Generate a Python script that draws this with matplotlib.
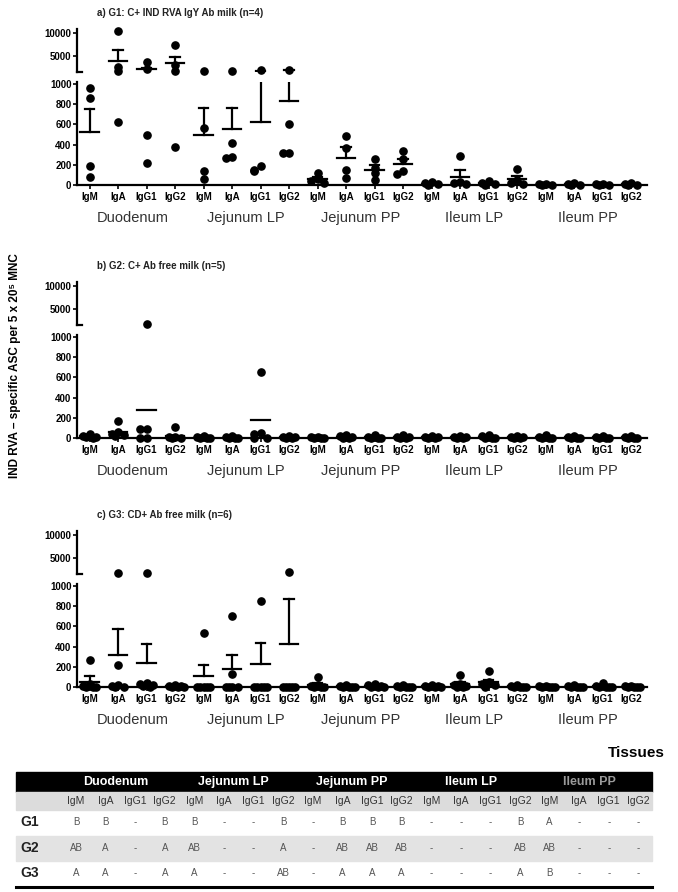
import numpy as np
import matplotlib.pyplot as plt

plt.rcParams['font.family'] = ['Liberation Sans', 'DejaVu Sans']

# === Data ===
isotypes = ["IgM", "IgA", "IgG1", "IgG2"]
tissues = ["Duodenum", "Jejunum LP", "Jejunum PP", "Ileum LP", "Ileum PP"]
tick_labels = isotypes * len(tissues)

titles = ["a) G1: C+ IND RVA IgY Ab milk (n=4)",
          "b) G2: C+ Ab free milk (n=5)",
          "c) G3: CD+ Ab free milk (n=6)"]

# G1 (n=4)
g1_points = [
    [960, 860, 190, 80], [10400, 2600, 1700, 620], [3700, 2200, 500, 215], [7400, 3050, 1700, 375],
    [1750, 560, 140, 55], [1750, 415, 275, 265], [1900, 190, 150, 140], [1900, 600, 315, 315],
    [120, 60, 40, 20], [485, 370, 150, 70], [255, 165, 115, 50], [335, 255, 140, 105],
    [30, 15, 5, 0], [290, 30, 20, 10], [35, 20, 10, 0], [155, 50, 20, 10],
    [10, 5, 0, 0], [15, 5, 0, 0], [10, 5, 0, 0], [15, 5, 0, 0],
]
g1_mean = [525, 3900, 2200, 3500, 495, 550, 620, 830,
           55, 270, 150, 210, 12, 80, 16, 60, 4, 5, 4, 5]
g1_sem = [225, 2400, 250, 1300, 265, 210, 1200, 1100,
          25, 105, 50, 45, 8, 70, 8, 30, 3, 4, 3, 4]

# G2 (n=5), mean only
g2_points = [
    [40, 20, 10, 5, 0], [165, 60, 40, 30, 20], [1700, 90, 85, 0, 0], [105, 10, 5, 0, 0],
    [15, 5, 0, 0, 0], [15, 5, 0, 0, 0], [650, 50, 40, 0, 0], [20, 10, 5, 0, 0],
    [10, 5, 0, 0, 0], [30, 15, 5, 0, 0], [25, 10, 0, 0, 0], [25, 10, 5, 0, 0],
    [20, 10, 5, 0, 0], [15, 10, 5, 0, 0], [25, 15, 0, 0, 0], [15, 10, 5, 0, 0],
    [30, 10, 0, 0, 0], [15, 10, 0, 0, 0], [20, 5, 0, 0, 0], [15, 10, 0, 0, 0],
]
g2_mean = [15, 60, 275, 24, 4, 4, 180, 7, 3, 10, 7, 8, 7, 6, 8, 6, 8, 5, 5, 5]
g2_sem = None

# G3 (n=6)
g3_points = [
    [265, 30, 10, 0, 0, 0], [1700, 215, 20, 10, 0, 0], [1700, 40, 30, 20, 10, 0], [20, 10, 5, 0, 0, 0],
    [535, 0, 0, 0, 0, 0], [705, 130, 0, 0, 0, 0], [850, 0, 0, 0, 0, 0], [1900, 0, 0, 0, 0, 0],
    [95, 20, 10, 0, 0, 0], [20, 10, 0, 0, 0, 0], [30, 20, 10, 0, 0, 0], [15, 10, 0, 0, 0, 0],
    [15, 10, 5, 0, 0, 0], [120, 30, 20, 10, 0, 0], [160, 50, 30, 20, 10, 0], [20, 10, 0, 0, 0, 0],
    [10, 5, 0, 0, 0, 0], [15, 5, 0, 0, 0, 0], [40, 10, 0, 0, 0, 0], [10, 5, 0, 0, 0, 0],
]
g3_mean = [50, 315, 235, 6, 112, 175, 225, 430,
           20, 5, 10, 4, 5, 30, 45, 5, 3, 3, 8, 3]
g3_sem = [60, 255, 195, 3, 105, 140, 210, 440,
          15, 3, 6, 3, 3, 20, 25, 3, 2, 2, 6, 2]

# Table of letters
groups = ["G1", "G2", "G3"]
g1_letters = ["B", "B", "-", "B", "B", "-", "-", "B", "-", "B", "B", "B", "-", "-", "-", "B", "A", "-", "-", "-"]
g2_letters = ["AB", "A", "-", "A", "AB", "-", "-", "A", "-", "AB", "AB", "AB", "-", "-", "-", "AB", "AB", "-", "-", "-"]
g3_letters = ["A", "A", "-", "A", "A", "-", "-", "AB", "-", "A", "A", "A", "-", "-", "-", "A", "B", "-", "-", "-"]

panels = [(g1_points, g1_mean, g1_sem), (g2_points, g2_mean, g2_sem), (g3_points, g3_mean, g3_sem)]
letters = [g1_letters, g2_letters, g3_letters]

# === Layout helpers (pixel based) ===
W, H = 678, 892
fig = plt.figure(figsize=(W / 100, H / 100), dpi=100)


def px_axes(x0, y0, x1, y1):
    return fig.add_axes([x0 / W, 1 - y1 / H, (x1 - x0) / W, (y1 - y0) / H])


def spread(vals):
    # GraphPad-like horizontal spreading of overlapping dots
    pattern = [0, -0.22, 0.22, -0.11, 0.11, 0.33]
    offs = []
    for j, v in enumerate(vals):
        tol = 45 if v <= 1000 else 900
        k = sum(1 for u in vals[:j] if abs(u - v) < tol)
        offs.append(pattern[k % len(pattern)])
    return offs


LOW_TOP, UP_BOT, UP_TOP = 1020, 1522, 10870
x = np.arange(len(tick_labels))
xlim = (-0.44, 19.56)
offsets = [0, 253, 502]

for (pts, means, sems), title, d in zip(panels, titles, offsets):
    ax_up = px_axes(77, 29 + d, 647, 72 + d)
    ax_lo = px_axes(77, 82 + d, 647, 185 + d)

    for ax in (ax_up, ax_lo):
        ax.set_xlim(*xlim)
        for s in ("top", "right"):
            ax.spines[s].set_visible(False)
        ax.spines["left"].set_linewidth(1.6)
        ax.tick_params(axis="y", length=3, width=1.2, labelsize=7, pad=1)

    ax_up.set_ylim(UP_BOT, UP_TOP)
    ax_up.set_yticks([5000, 10000])
    ax_up.spines["bottom"].set_visible(False)
    ax_up.set_xticks([])
    ax_up.plot([0, 0.008], [0, 0], transform=ax_up.transAxes, color="black", lw=1.6, clip_on=False)

    ax_lo.set_ylim(0, LOW_TOP)
    ax_lo.set_yticks(range(0, 1001, 200))
    ax_lo.spines["bottom"].set_linewidth(1.6)
    ax_lo.set_xticks(x)
    ax_lo.set_xticklabels(tick_labels, fontsize=7, fontweight="bold")
    ax_lo.tick_params(axis="x", length=3, width=1.2, pad=2)
    for ax in (ax_up, ax_lo):
        for lab in ax.get_yticklabels():
            lab.set_fontweight("bold")

    for i, vals in enumerate(pts):
        offs = spread(vals)
        for v, o in zip(vals, offs):
            if v <= LOW_TOP:
                ax_lo.plot(i + o, v, "o", color="black", ms=5.2, clip_on=False, zorder=3)
            elif v >= UP_BOT:
                ax_up.plot(i + o, v, "o", color="black", ms=5.2, clip_on=False, zorder=3)
        m = means[i]
        for ax in (ax_up, ax_lo):
            ax.plot([i - 0.33, i + 0.33], [m, m], color="black", lw=1.6, zorder=2)
            if sems is not None:
                top = m + sems[i]
                ax.plot([i, i], [m, top], color="black", lw=1.6, zorder=2)
                ax.plot([i - 0.16, i + 0.16], [top, top], color="black", lw=1.6, zorder=2)

    for g, name in enumerate(tissues):
        ax_lo.annotate(name, xy=(1.5 + 4 * g, 0), xycoords=("data", "axes fraction"),
                       xytext=(0, -24), textcoords="offset points",
                       ha="center", va="center", fontsize=10.5, color="#333333")

    fig.text(97 / W, 1 - (13 + d) / H, title, fontsize=7, fontweight="bold",
             ha="left", va="center", color="#222222")

fig.text(15 / W, 1 - 366 / H, "IND RVA \u2013 specific ASC per 5 x 20\u2075 MNC",
         rotation=90, fontsize=8.5, fontweight="bold", ha="center", va="center")

# === Table ===
fig.text(636 / W, 1 - 753 / H, "Tissues", fontsize=11, fontweight="bold", ha="center", va="center")

tab = fig.add_axes([0, 0, 1, 1], zorder=-1)
tab.set_xlim(0, W)
tab.set_ylim(H, 0)
tab.axis("off")

col_x = 76 + 29.6 * np.arange(len(tick_labels))
tab.add_patch(plt.Rectangle((16, 772), 636, 20, color="black"))
tab.add_patch(plt.Rectangle((16, 792), 636, 18, color="#dcdcdc"))
tab.add_patch(plt.Rectangle((16, 836), 636, 25, color="#e3e3e3"))
tab.plot([16, 652], [887, 887], color="black", lw=2.2)

for g, name in enumerate(tissues):
    cx = col_x[4 * g:4 * g + 4].mean() - 5
    tab.text(cx, 782, name, color="#9a9a9a" if g == 4 else "white", fontsize=9,
             fontweight="bold", ha="center", va="center")
for cx, lab in zip(col_x, tick_labels):
    tab.text(cx, 801, lab, fontsize=7.5, color="#333333", ha="center", va="center")

row_y = [822, 848, 873]
for ry, gname, row in zip(row_y, groups, letters):
    tab.text(30, ry, gname, fontsize=10, fontweight="bold", ha="center", va="center", color="#222222")
    for cx, t in zip(col_x, row):
        tab.text(cx, ry, t, fontsize=7, color="#555555", ha="center", va="center")

plt.savefig("out.png", dpi=100)
